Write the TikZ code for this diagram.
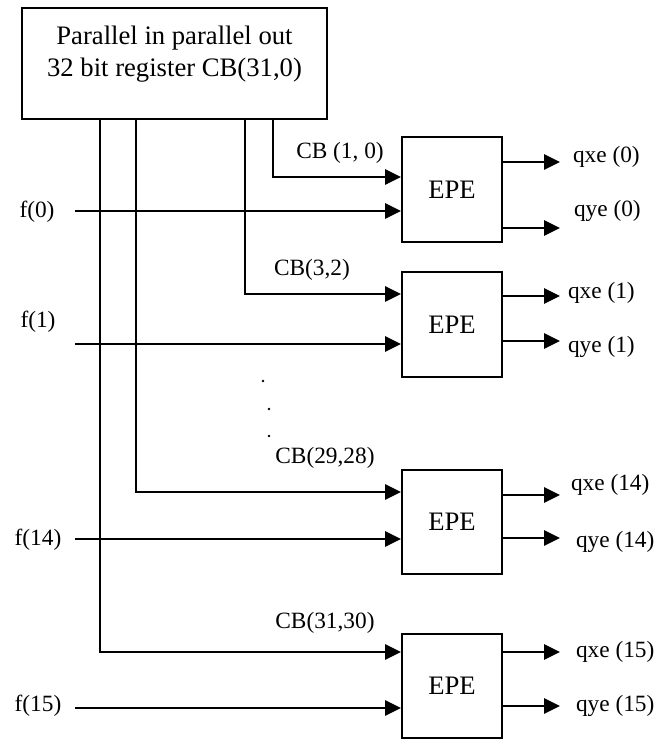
\documentclass[tikz,border=0pt]{standalone}
\usepackage{fontspec}
\setmainfont{Liberation Serif}
\usetikzlibrary{arrows.meta}

\begin{document}
\begin{tikzpicture}[
    x=0.75pt, y=-0.75pt,
    line width=1.5pt,
    sig/.style={-{Triangle[length=12pt,width=11.5pt]}},
    epe/.style={draw, minimum width=75pt, minimum height=78.5pt, font=\fontsize{20}{24}\selectfont},
    lbl/.style={font=\fontsize{17.5}{21}\selectfont, inner sep=0pt},
    dotmark/.style={circle, fill, inner sep=0pt, minimum size=2pt}
    ]

    \useasboundingbox (0,0) rectangle (666,739);

    \node[draw, minimum width=228.75pt, minimum height=83.25pt] (reg) at (174.5,63.5) {};
    \node[font=\fontsize{20}{24}\selectfont, align=center] (regtext) at (174.5,54) {Parallel in parallel out\\32 bit register CB(31,0)};

    \node[epe] (e0) at (452,189.5) {EPE};
    \node[epe] (e1) at (452,324.5) {EPE};
    \node[epe] (e14) at (452,522) {EPE};
    \node[epe] (e15) at (452,686) {EPE};

    \coordinate (b0) at (273,177);
    \coordinate (b1) at (245,294);
    \coordinate (b14) at (136,492);
    \coordinate (b15) at (100,652);

    \coordinate (f0) at (75,211);
    \coordinate (f1) at (75,344);
    \coordinate (f14) at (75,539);
    \coordinate (f15) at (75,708);

    \coordinate (q0x) at (560,162);
    \coordinate (q0y) at (560,228);
    \coordinate (q1x) at (560,296);
    \coordinate (q1y) at (560,341);
    \coordinate (q14x) at (560,495);
    \coordinate (q14y) at (560,538);
    \coordinate (q15x) at (560,652);
    \coordinate (q15y) at (560,706);

    \draw[sig] (reg.south -| b0) -- (b0) -- (e0.west |- b0);
    \draw[sig] (reg.south -| b1) -- (b1) -- (e1.west |- b1);
    \draw[sig] (reg.south -| b14) -- (b14) -- (e14.west |- b14);
    \draw[sig] (reg.south -| b15) -- (b15) -- (e15.west |- b15);

    \draw[sig] (f0) -- (e0.west |- f0);
    \draw[sig] (f1) -- (e1.west |- f1);
    \draw[sig] (f14) -- (e14.west |- f14);
    \draw[sig] (f15) -- (e15.west |- f15);

    \draw[sig] (e0.east |- q0x) -- (q0x);
    \draw[sig] (e0.east |- q0y) -- (q0y);
    \draw[sig] (e1.east |- q1x) -- (q1x);
    \draw[sig] (e1.east |- q1y) -- (q1y);
    \draw[sig] (e14.east |- q14x) -- (q14x);
    \draw[sig] (e14.east |- q14y) -- (q14y);
    \draw[sig] (e15.east |- q15x) -- (q15x);
    \draw[sig] (e15.east |- q15y) -- (q15y);

    \node[lbl] (cb0) at (340,153) {CB (1, 0)};
    \node[lbl] (cb1) at (312,270) {CB(3,2)};
    \node[lbl] (cb14) at (325,458) {CB(29,28)};
    \node[lbl] (cb15) at (325,623) {CB(31,30)};

    \node[lbl] (fl0) at (37,212) {f(0)};
    \node[lbl] (fl1) at (38,322) {f(1)};
    \node[lbl] (fl14) at (38,540) {f(14)};
    \node[lbl] (fl15) at (38,706) {f(15)};

    \node[lbl, anchor=west] (qx0) at (572,157) {qxe (0)};
    \node[lbl, anchor=west] (qy0) at (573,211) {qye (0)};
    \node[lbl, anchor=west] (qx1) at (567,293) {qxe (1)};
    \node[lbl, anchor=west] (qy1) at (567,347) {qye (1)};
    \node[lbl, anchor=west] (qx14) at (570,485) {qxe (14)};
    \node[lbl, anchor=west] (qy14) at (575,542) {qye (14)};
    \node[lbl, anchor=west] (qx15) at (575,652) {qxe (15)};
    \node[lbl, anchor=west] (qy15) at (575,706) {qye (15)};

    \node[dotmark] (d1) at (263,381) {};
    \node[dotmark] (d2) at (269,409) {};
    \node[dotmark] (d3) at (269,436) {};

\end{tikzpicture}
\end{document}
